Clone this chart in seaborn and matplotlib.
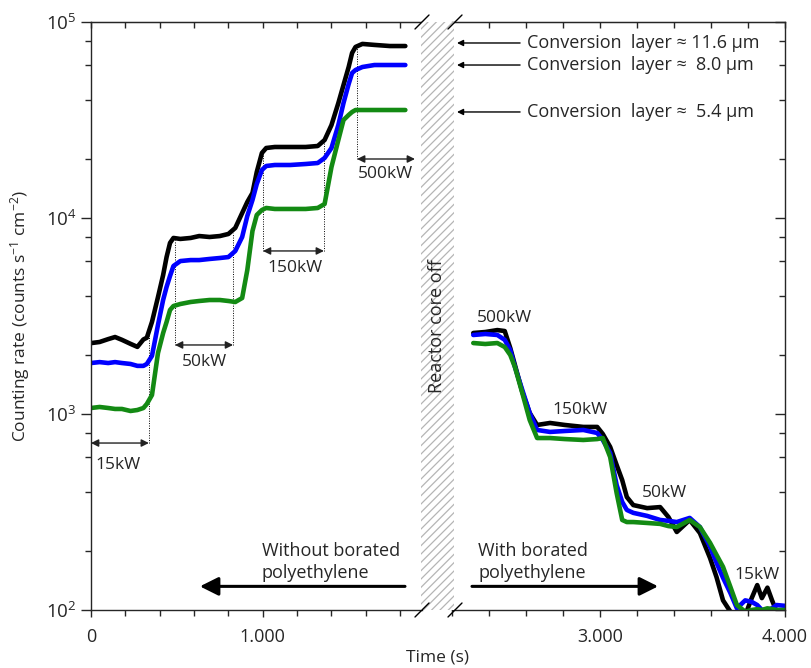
import numpy as np
import pandas as pd
import seaborn as sns
import matplotlib.pyplot as plt
from matplotlib.ticker import LogLocator, MultipleLocator, FuncFormatter, NullFormatter
from matplotlib.patches import Rectangle
from matplotlib.lines import Line2D

# reactor ramp-up, without borated polyethylene (time in s)
timeLeft = [0, 50, 100, 140, 180, 230, 270, 305, 325, 355, 390, 420, 440, 460, 480, 520, 580, 630,
            690, 750, 800, 840, 880, 910, 940, 965, 995, 1020, 1070, 1160, 1250, 1320, 1360, 1400,
            1440, 1470, 1500, 1520, 1540, 1580, 1650, 1740, 1830]
black_l = [2300, 2330, 2410, 2470, 2390, 2280, 2200, 2400, 2450, 2950, 3950, 5120, 6320, 7460, 7910,
           7820, 7910, 8090, 8000, 8090, 8290, 8900, 10600, 12070, 13420, 17160, 21470, 22760, 23030,
           23030, 23030, 23300, 25000, 29800, 38600, 47700, 58900, 69500, 74600, 77300, 76400, 75400, 75400]
blue_l = [1820, 1840, 1820, 1840, 1820, 1800, 1760, 1760, 1800, 1980, 2850, 3820, 4450, 5060, 5690,
          6030, 6100, 6100, 6180, 6250, 6320, 6790, 8000, 10240, 12350, 14910, 17580, 18420, 18640,
          18640, 18860, 19080, 20240, 22760, 29820, 38610, 48270, 54930, 56900, 58930, 60330, 60330, 60330]
green_l = [1073, 1086, 1073, 1061, 1061, 1036, 1048, 1073, 1125, 1250, 2047, 2590, 2947, 3393, 3556,
           3641, 3728, 3772, 3816, 3816, 3772, 3728, 3906, 5428, 8585, 10360, 10985, 11250, 11120,
           11120, 11120, 11250, 11790, 18200, 25000, 31620, 33540, 34740, 35560, 35560, 35560, 35560, 35560]

# ramp-down after the core was off, with borated polyethylene
timeRight = [2315, 2380, 2445, 2485, 2515, 2540, 2580, 2620, 2660, 2730, 2810, 2910, 2985, 3015, 3055,
             3090, 3120, 3145, 3180, 3255, 3325, 3370, 3415, 3485, 3540, 3595, 3630, 3665, 3705, 3740,
             3785, 3820, 3850, 3875, 3905, 3930, 3955, 4000]
black_r = [2590, 2620, 2680, 2650, 2170, 1780, 1295, 1012, 879, 900, 879, 859, 859, 791, 679, 549, 460,
           377, 343, 331, 335, 298, 250, 288, 247, 184, 147, 112, 98, 94, 94, 115, 134, 115, 130, 112, 98, 98]
blue_r = [2530, 2560, 2530, 2390, 2120, 1740, 1326, 1012, 829, 810, 819, 829, 800, 737, 632, 434, 356,
          324, 313, 302, 288, 285, 281, 295, 265, 210, 174, 146, 122, 102, 112, 110, 106, 100, 100, 102, 106, 105]
green_r = [2302, 2276, 2302, 2197, 2000, 1737, 1280, 932, 754, 754, 745, 737, 745, 754, 603, 395, 288,
           281, 281, 278, 275, 268, 265, 288, 265, 220, 191, 166, 131, 106, 98, 100, 101, 100, 102, 101, 100, 100]

layers = ["11.6", "8.0", "5.4"]
layerColors = {"11.6": "#000000", "8.0": "#0000ff", "5.4": "#138a13"}


def make_df(t, series):
    parts = []
    for name, vals in zip(layers, series):
        parts.append(pd.DataFrame({"time": t, "rate": vals, "layer": name}))
    return pd.concat(parts, ignore_index=True)


dfLeft = make_df(timeLeft, [black_l, blue_l, green_l])
dfRight = make_df(timeRight, [black_r, blue_r, green_r])

sns.set_style("ticks")
plt.rcParams["font.family"] = ["Open Sans", "DejaVu Sans"]
plt.rcParams["mathtext.fontset"] = "custom"
plt.rcParams["mathtext.rm"] = "Open Sans"
plt.rcParams["mathtext.it"] = "Open Sans"
plt.rcParams["hatch.linewidth"] = 0.9
FS = 13

fig = plt.figure(figsize=(8.11, 6.68), dpi=100)
W, H = 811, 668
axL = fig.add_axes([91 / W, 58 / H, 331 / W, 588 / H])
axR = fig.add_axes([452 / W, 58 / H, 333 / W, 588 / H])

for ax, df in [(axL, dfLeft), (axR, dfRight)]:
    sns.lineplot(data=df, x="time", y="rate", hue="layer", hue_order=layers, palette=layerColors,
                 linewidth=3.3, legend=False, ax=ax, estimator=None, sort=False)
    ax.set_yscale("log")
    ax.set_ylim(100, 100000)
    ax.set_xlabel("")
    ax.set_ylabel("")
    ax.xaxis.set_major_locator(MultipleLocator(1000))
    ax.xaxis.set_minor_locator(MultipleLocator(200))
    ax.xaxis.set_major_formatter(FuncFormatter(lambda v, p: f"{int(round(v)):,}".replace(",", ".")))
    ax.yaxis.set_major_locator(LogLocator(base=10, numticks=10))
    ax.yaxis.set_minor_locator(LogLocator(base=10, subs=[2, 4, 6, 8], numticks=10))
    ax.yaxis.set_minor_formatter(NullFormatter())
    ax.tick_params(axis="x", which="both", direction="out", labelsize=FS, width=1, pad=8)
    ax.tick_params(axis="x", which="major", length=5)
    ax.tick_params(axis="x", which="minor", length=4)
    for s in ax.spines.values():
        s.set_linewidth(1)
    top = ax.secondary_xaxis("top")
    top.xaxis.set_major_locator(MultipleLocator(1000))
    top.xaxis.set_minor_locator(MultipleLocator(200))
    top.tick_params(which="both", direction="in", labeltop=False, length=4, width=1)

axL.set_xlim(0, 1927)
axR.set_xlim(2200, 4000)

axL.spines["right"].set_visible(False)
axL.tick_params(axis="y", which="both", direction="out", labelsize=FS + 0.5, width=1)
axL.tick_params(axis="y", which="major", length=7)
axL.tick_params(axis="y", which="minor", length=4)

axR.spines["left"].set_visible(False)
axR.yaxis.tick_right()
axR.tick_params(axis="y", which="both", direction="in", labelright=False, width=1)
axR.tick_params(axis="y", which="major", length=7)
axR.tick_params(axis="y", which="minor", length=4)

# power steps on the way up
arrowKw = dict(arrowstyle="<|-|>", color="#222222", lw=1.0, mutation_scale=11, shrinkA=0, shrinkB=0)
steps = [("15kW", 0, 337, 711, 157, 550, [337], [2530]),
         ("50kW", 489, 827, 2250, 663, 1840, [489, 827], [7730, 8380]),
         ("150kW", 1001, 1356, 6790, 1187, 5560, [1001, 1356], [22800, 24100]),
         ("500kW", 1549, 1886, 20000, 1717, 16750, [1549], [74000])]
for label, t0, t1, yv, tx, ty, dl, dtop in steps:
    axL.annotate("", xy=(t0, yv), xytext=(t1, yv), arrowprops=arrowKw)
    axL.text(tx, ty, label, ha="center", va="center", fontsize=12.5)
    for d, dt in zip(dl, dtop):
        axL.plot([d, d], [yv, dt], color="black", lw=0.7, ls=(0, (1, 1.5)), zorder=1)

# power steps on the way down
for label, tx, ty in [("500kW", 2486, 3090), ("150kW", 2892, 1047), ("50kW", 3351, 395), ("15kW", 3849, 151)]:
    axR.text(tx, ty, label, ha="center", va="center", fontsize=12.5)

bigArrow = dict(arrowstyle="-|>", color="black", lw=2.2, mutation_scale=28, shrinkA=0, shrinkB=0)
axL.annotate("", xy=(634, 132), xytext=(1828, 132), arrowprops=bigArrow)
axL.text(995, 176, "Without borated\npolyethylene", ha="left", va="center", fontsize=FS, linespacing=1.3)
axR.annotate("", xy=(3314, 132), xytext=(2308, 132), arrowprops=bigArrow)
axR.text(2341, 176, "With borated\npolyethylene", ha="left", va="center", fontsize=FS, linespacing=1.3)

# conversion layer labels
smallArrow = dict(arrowstyle="-|>", color="black", lw=1.0, mutation_scale=9, shrinkA=0, shrinkB=0)
convTexts = ["Conversion  layer \u2248 11.6 \u00b5m", "Conversion  layer \u2248  8.0 \u00b5m",
             "Conversion  layer \u2248  5.4 \u00b5m"]
for txt, yv in zip(convTexts, [78150, 60330, 34750]):
    axR.annotate("", xy=(2227, yv), xytext=(2568, yv), arrowprops=smallArrow, annotation_clip=False)
    axR.text(2605, yv, txt, ha="left", va="center", fontsize=FS)

# reactor-off gap
fig.add_artist(Rectangle((421 / W, 58 / H), 33 / W, 588 / H, transform=fig.transFigure,
                         facecolor="white", edgecolor="#b5b5b5", hatch="////", lw=0))
fig.text(437 / W, 1 - 326 / H, "Reactor core off", rotation=90, ha="center", va="center", fontsize=FS)
for cx in [422, 455]:
    for cy in [22, 610]:
        fig.add_artist(Line2D([(cx - 7) / W, (cx + 7) / W], [1 - (cy + 7) / H, 1 - (cy - 7) / H],
                              transform=fig.transFigure, color="black", lw=1))

fig.text(20 / W, 1 - 316 / H, "Counting rate (counts s$^{-1}$ cm$^{-2}$)", rotation=90,
         ha="center", va="center", fontsize=12.5)
fig.text(437 / W, 1 - 657 / H, "Time (s)", ha="center", va="center", fontsize=12.5)

fig.savefig("out.png", dpi=100)
